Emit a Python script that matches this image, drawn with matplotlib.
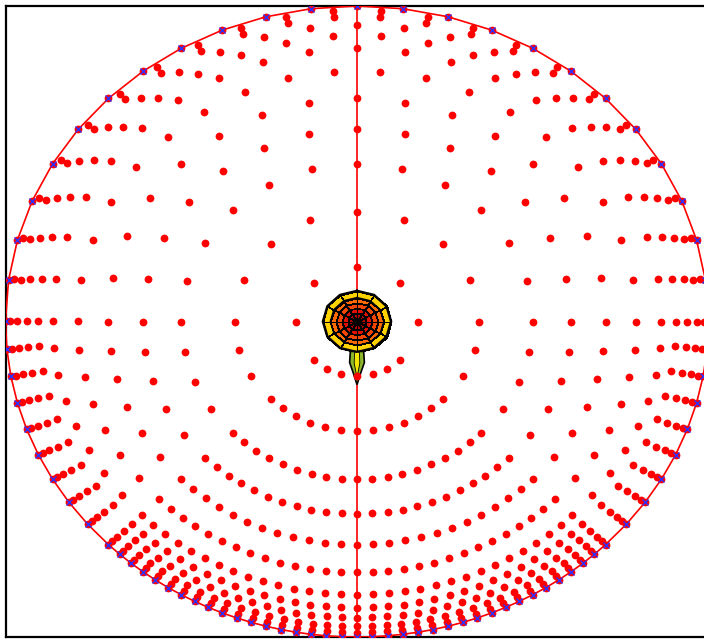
import numpy as np
import matplotlib
matplotlib.use("Agg")
import matplotlib.pyplot as plt
from matplotlib.colors import ListedColormap

# ---- mesh rings (radius, divisions per sector) ----
ring_radii = [0.173, 0.347, 0.500, 0.610, 0.707, 0.795, 0.866, 0.907, 0.939, 0.966, 0.986, 1.000]
top_div = [4, 8, 12, 14, 16, 19, 20, 21, 22, 23, 23, 24]     # 0..180 deg
mid_div = [1, 3, 4, 5, 6, 7, 8, 9, 9, 9, 9, 9]               # 180..225 and 315..360 deg
bot_div = [6, 12, 18, 22, 24, 28, 30, 32, 34, 36, 36, 36]    # 225..315 deg

# ---- central peak (filled bands, inside -> outside) ----
peak_radii = [0.0, 0.012, 0.026, 0.043, 0.060, 0.076, 0.097]
peak_sectors = 12
peak_colors = ["#3a0000", "#b00000", "#e01000", "#f04400", "#ff6a00", "#ffd200"]

# tail of the peak below the centre
tail_x = [-0.019, 0.019, 0.021, 0.010, 0.0, -0.010, -0.021]
tail_y = [-0.095, -0.095, -0.130, -0.165, -0.200, -0.165, -0.130]
tail_in_x = [-0.007, 0.007, 0.008, 0.0, -0.008]
tail_in_y = [-0.098, -0.098, -0.132, -0.178, -0.132]


def ring_angles(t, m, b):
    a = np.concatenate([
        np.linspace(0, 180, t + 1),
        np.linspace(180, 225, m + 1),
        np.linspace(225, 315, b + 1),
        np.linspace(315, 360, m + 1)[:-1],
    ])
    return np.unique(np.round(a, 6))


fig = plt.figure(figsize=(7.04, 6.4), dpi=100)
ax = fig.add_axes([5.5 / 704, 3 / 640, 703 / 704, 631 / 640])

# vertical line through the centre
ax.plot([0, 0], [-1, 1], color="red", lw=1.2, zorder=1)

# central peak
th = np.deg2rad(np.linspace(90, 450, peak_sectors + 1))
R, T = np.meshgrid(peak_radii, th)
X, Y = R * np.cos(T), R * np.sin(T)
C = np.tile(np.arange(len(peak_colors)), (peak_sectors, 1))
ax.pcolormesh(X, Y, C, cmap=ListedColormap(peak_colors), vmin=-0.5,
              vmax=len(peak_colors) - 0.5, edgecolors="black",
              linewidth=0.5, shading="flat", zorder=2)
ax.plot(X[:, -1], Y[:, -1], color="black", lw=1.8, zorder=2)
ax.plot(X[:, -2], Y[:, -2], color="black", lw=1.0, zorder=2)

ax.fill(tail_x, tail_y, facecolor="#8db82a", edgecolor="black", lw=1.2, zorder=2)
ax.fill(tail_in_x, tail_in_y, facecolor="#f2e600", edgecolor="black", lw=0.6, zorder=2)

# mesh nodes
for r, t, m, b in zip(ring_radii, top_div, mid_div, bot_div):
    a = np.deg2rad(ring_angles(t, m, b))
    ax.plot(r * np.cos(a), r * np.sin(a), "o", color="red", ms=5.6, mew=0, zorder=3)

# boundary
a = np.deg2rad(ring_angles(top_div[-1], mid_div[-1], bot_div[-1]))
a = np.append(a, a[0])
ax.plot(np.cos(a), np.sin(a), color="red", lw=1.2, zorder=3)
ax.plot(np.cos(a), np.sin(a), "x", color="#3030ff", ms=4.5, mew=1.0, zorder=4)

ax.set_xlim(-1, 1)
ax.set_ylim(-1, 1)
ax.set_xticks([])
ax.set_yticks([])
for s in ax.spines.values():
    s.set_linewidth(1.6)

fig.savefig("out.png", dpi=100)
